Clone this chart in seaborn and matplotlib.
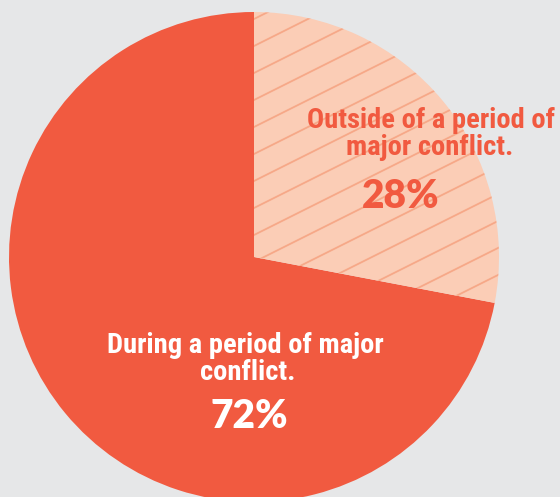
import matplotlib
matplotlib.use("Agg")
import numpy as np
import matplotlib.pyplot as plt
from matplotlib import font_manager
import seaborn as sns

# data
labels = ["During a period of major conflict.", "Outside of a period of major conflict."]
shares = [72, 28]
pct_labels = ["72%", "28%"]

bg = "#e6e7e8"
red = "#f15a40"
pale = "#fbcdb6"
hatch_col = "#f6a888"

sns.set_style("white", {"axes.facecolor": bg, "figure.facecolor": bg})


def pick(cands, bold=False):
    for c in cands:
        for f in font_manager.fontManager.ttflist:
            if f.name == c:
                w = f.weight if isinstance(f.weight, int) else 400
                if not bold or w >= 600:
                    return c
    return "DejaVu Sans"


cond_font = pick(["Roboto Condensed", "Fira Sans Condensed", "Liberation Sans Narrow"])
pct_font = pick(["Montserrat", "Lato", "Roboto"], bold=True)

fig = plt.figure(figsize=(5.6, 4.97), dpi=100)
ax = fig.add_axes([0, 0, 1, 1])

# pie in pixel-like coordinates (y up)
cx, cy, r = 254, 240, 245
wedges, _ = ax.pie(shares, colors=[red, pale], startangle=90, counterclock=True,
                   center=(cx, cy), radius=r, frame=False,
                   wedgeprops={"linewidth": 0})

ax.set_xlim(0, 560)
ax.set_ylim(0, 497)
ax.set_aspect("auto")
ax.axis("off")

# diagonal hatch lines inside the small slice
xs = np.array([cx - 20, cx + 300])
for k in range(-2, 25):
    ys = 451 - 27 * k + 0.5 * (xs - cx)
    ln, = ax.plot(xs, ys, color=hatch_col, lw=1.3, solid_capstyle="butt")
    ln.set_clip_path(wedges[1])

lab = dict(ha="center", va="baseline", fontsize=20.5, fontweight="bold",
           family=cond_font)
pct = dict(ha="center", va="baseline", fontsize=28, fontweight="heavy",
           family=pct_font)

# small slice text
ax.text(431, 369, "Outside of a period of", color=red, **lab)
ax.text(430, 342, "major conflict.", color=red, **lab)
ax.text(401, 289, pct_labels[1], color=red, **pct)

# big slice text
ax.text(245, 144, "During a period of major", color="white", **lab)
ax.text(248, 117, "conflict.", color="white", **lab)
ax.text(249, 69, pct_labels[0], color="white", **pct)

fig.savefig("out.png", facecolor=bg)
